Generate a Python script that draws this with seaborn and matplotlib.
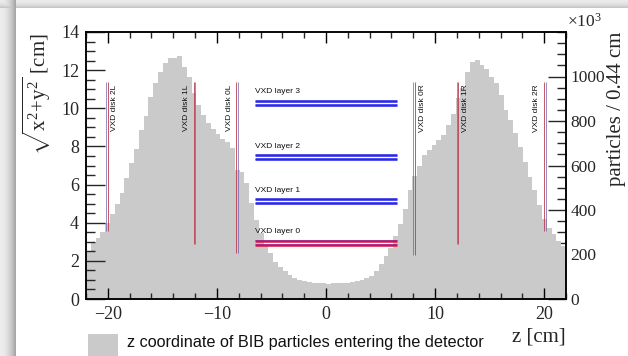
import numpy as np
import matplotlib
matplotlib.use("Agg")
import matplotlib.pyplot as plt
from matplotlib.patches import Rectangle
from matplotlib.ticker import MultipleLocator
import seaborn as sns

# ---------------- data ----------------
Z_MIN, Z_MAX, N_BINS = -22.0, 22.0, 100
# counts per 0.44 cm bin (x10^3)
hist_counts = [
    213, 250, 273, 303, 340, 382, 427, 475, 542, 610,
    673, 760, 822, 909, 969, 1022, 1059, 1082, 1085, 1092,
    1041, 999, 927, 872, 825, 790, 762, 740, 720, 705,
    677, 580, 570, 520, 430, 355, 297, 243, 207, 168,
    145, 127, 108, 96, 86, 80, 76, 73, 71, 70,
    69, 70, 71, 72, 74, 76, 80, 85, 95, 105,
    126, 156, 193, 231, 283, 336, 405, 490, 553, 600,
    647, 670, 692, 715, 737, 782, 830, 902, 950, 1022,
    1067, 1074, 1052, 1032, 999, 969, 917, 849, 804, 745,
    685, 617, 550, 490, 422, 358, 320, 290, 262, 240,
]

layer_names = ["VXD layer 0", "VXD layer 1", "VXD layer 2", "VXD layer 3"]
layer_r_inner = [2.85, 5.02, 7.36, 10.18]
layer_r_outer = [3.06, 5.24, 7.55, 10.40]
layer_half_length = 6.5

disk_names = ["VXD disk 2L", "VXD disk 1L", "VXD disk 0L",
              "VXD disk 0R", "VXD disk 1R", "VXD disk 2R"]
disk_z = [-20.1, -12.05, -8.15, 8.1, 12.05, 20.05]
disk_r_min = [3.56, 2.87, 2.40, 2.30, 2.87, 3.56]
disk_r_max = [11.36, 11.36, 11.36, 11.36, 11.36, 11.36]
disk_label_side = [1, -1, -1, 1, 1, -1]

left_ticks = [0, 2, 4, 6, 8, 10, 12, 14]
right_ticks = [0, 200, 400, 600, 800, 1000]
x_ticks = [-20, -10, 0, 10, 20]

legend_text = "z coordinate of BIB particles entering the detector"

# ---------------- style ----------------
sns.set_style("ticks")
plt.rcParams["font.family"] = ["Liberation Serif", "DejaVu Serif"]
plt.rcParams["mathtext.fontset"] = "custom"
plt.rcParams["mathtext.rm"] = "Liberation Serif"
plt.rcParams["mathtext.it"] = "Liberation Serif:italic"
SANS = ["Liberation Sans", "DejaVu Sans"]
HIST_COLOR = "#cacaca"
BLUE = "#1c1ce6"
RED = "#e0103a"

W, H = 628, 356
fig = plt.figure(figsize=(W / 100, H / 100), dpi=100)

# background card with shadow
bg_arr = np.ones((H, W, 3))
xs = np.arange(W)
ys = np.arange(H)
left_shade = np.where(xs < 16, 0.93 - 0.28 * (np.clip(xs, 0, 15) / 15.0) ** 2, 1.0)
top_shade = np.where(ys < 8, 0.92 - 0.14 * (np.clip(ys, 0, 7) / 7.0) ** 2, 1.0)
shade = np.minimum(left_shade[None, :], top_shade[:, None])
bg_arr *= shade[:, :, None]
bg = fig.add_axes([0, 0, 1, 1], zorder=-10)
bg.imshow(bg_arr, aspect="auto", extent=(0, 1, 0, 1), interpolation="bilinear")
bg.axis("off")

ax = fig.add_axes([86 / W, 57 / H, 480 / W, 267 / H])
ax2 = ax.twinx()
ax.set_zorder(2)
ax2.set_zorder(1)
ax.patch.set_visible(False)

# histogram on the right axis
edges = np.linspace(Z_MIN, Z_MAX, N_BINS + 1)
centers = 0.5 * (edges[:-1] + edges[1:])
sns.histplot(x=centers, weights=hist_counts, bins=N_BINS, binrange=(Z_MIN, Z_MAX),
             element="step", fill=True, color=HIST_COLOR, alpha=1.0, linewidth=0,
             ax=ax2)
ax2.set_ylim(0, 1200)
ax2.set_ylabel("")
ax2.set_xlabel("")

# barrel layers
for i, name in enumerate(layer_names):
    for r in (layer_r_inner[i], layer_r_outer[i]):
        if i == 0:
            ax.hlines(r, -layer_half_length, layer_half_length, color=RED, lw=1.8)
            ax.hlines(r + 0.03, -layer_half_length, layer_half_length, color="#8020a0", lw=0.6, alpha=0.7)
        else:
            ax.hlines(r, -layer_half_length, layer_half_length, color=BLUE, lw=1.8)
            ax.hlines(r, -layer_half_length, layer_half_length, color=RED, lw=0.5, alpha=0.5)
    ax.text(-layer_half_length, layer_r_outer[i] + 0.28, name, fontsize=6,
            family=SANS, ha="left", va="bottom", color="#111111")

# endcap disks
for i, name in enumerate(disk_names):
    z = disk_z[i]
    s = disk_label_side[i]
    ax.vlines(z - 0.08 * s, disk_r_min[i], disk_r_max[i], color="#6a5aa8", lw=0.6, alpha=0.8)
    ax.vlines(z + 0.08 * s, disk_r_min[i], disk_r_max[i], color="#b83a4e", lw=0.7, alpha=0.85)
    ax.text(z + 0.72 * s, disk_r_max[i] - 0.12, name, rotation=90, fontsize=6,
            family=SANS, ha="center", va="top", color="#111111")

# axes
ax.set_xlim(Z_MIN, Z_MAX)
ax.set_ylim(0, 14)
ax.set_xticks(x_ticks)
ax.set_yticks(left_ticks)
ax.xaxis.set_minor_locator(MultipleLocator(2))
ax.yaxis.set_minor_locator(MultipleLocator(0.5))
ax.set_xticklabels(["\u221220", "\u221210", "0", "10", "20"])
ax.tick_params(axis="x", which="major", direction="in", top=True, bottom=True,
               length=8, width=1, labelsize=13, pad=5, color="black")
ax.tick_params(axis="x", which="minor", direction="in", top=True, bottom=True,
               length=4, width=1)
ax.tick_params(axis="y", which="major", direction="in", left=True, right=False,
               length=14, width=1, labelsize=13, pad=5)
ax.tick_params(axis="y", which="minor", direction="in", left=True, right=False,
               length=6.5, width=1)

ax2.set_yticks(right_ticks)
ax2.yaxis.set_minor_locator(MultipleLocator(50))
ax2.tick_params(axis="y", which="major", direction="in", right=True, left=False,
                length=13, width=1, labelsize=12.5, pad=3)
ax2.tick_params(axis="y", which="minor", direction="in", right=True, left=False,
                length=6.5, width=1)
ax2.tick_params(axis="x", which="both", bottom=False, top=False, labelbottom=False)

for a in (ax, ax2):
    for sp in a.spines.values():
        sp.set_linewidth(1.1)
        sp.set_color("black")
        sp.set_visible(True)

# titles
fig.text(37 / W, 1 - 33 / H, r"$\sqrt{\mathrm{x}^{2}\!+\!\mathrm{y}^{2}}$ [cm]",
         rotation=90, ha="center", va="top", fontsize=15)
fig.text(617 / W, 1 - 32 / H, "particles / 0.44 cm", rotation=90,
         ha="center", va="top", fontsize=15)
fig.text(566 / W, 1 - 337 / H, "z [cm]", ha="right", va="center", fontsize=15)
fig.text(567 / W, 1 - 31 / H, r"$\times$10$^{3}$", ha="left", va="bottom", fontsize=12.5)

# legend
fig.add_artist(Rectangle((88 / W, 0), 30 / W, 22 / H, transform=fig.transFigure,
                         facecolor=HIST_COLOR, edgecolor="none"))
fig.text(127 / W, 1 - 343 / H, legend_text, ha="left", va="center",
         fontsize=11.7, family=SANS, color="#111111")

fig.savefig("out.png", dpi=100)
